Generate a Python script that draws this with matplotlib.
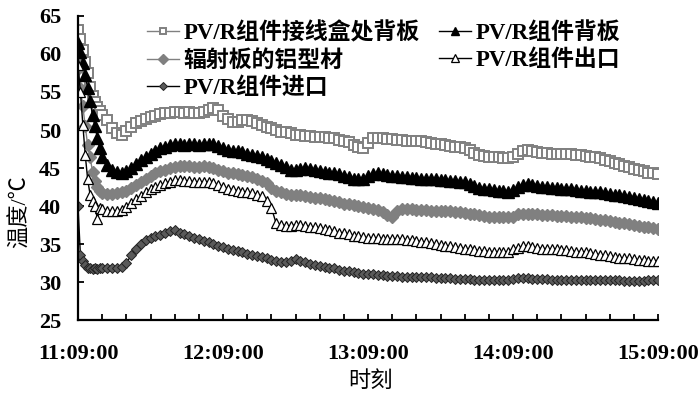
import matplotlib
matplotlib.use("Agg")
import matplotlib.pyplot as plt
from matplotlib.ticker import MultipleLocator

plt.rcParams['font.family'] = ['Liberation Serif', 'Noto Sans CJK SC']
plt.rcParams['axes.unicode_minus'] = False

# minutes after 11:09:00 (1 min steps at the start, then every 2 min)
minutes = list(range(0, 11)) + list(range(12, 241, 2))

tick_pos = [0, 60, 120, 180, 240]
tick_labels = ["11:09:00", "12:09:00", "13:09:00", "14:09:00", "15:09:00"]

names = ["PV/R组件接线盒处背板", "辐射板的铝型材", "PV/R组件进口",
         "PV/R组件背板", "PV/R组件出口"]

junction_box = [63.2, 62.0, 60.5, 59.0, 57.5, 55.6, 54.5, 53.7, 53.0, 52.5, 52.0,
                51.3, 50.3, 49.6, 49.3, 49.9, 50.4, 50.9, 51.2, 51.5, 51.7,
                51.9, 52.1, 52.2, 52.3, 52.4, 52.4, 52.3, 52.4, 52.3, 52.2,
                52.4, 52.6, 52.9, 52.6, 51.8, 51.4, 51.0, 51.0, 51.3, 51.3,
                51.2, 50.9, 50.7, 50.4, 50.2, 50.0, 49.8, 49.7, 49.6, 49.4,
                49.3, 49.2, 49.2, 49.1, 49.1, 49.1, 49.0, 48.9, 48.7, 48.6,
                48.4, 48.0, 47.8, 47.6, 48.3, 48.9, 49.0, 48.9, 48.8, 48.8,
                48.7, 48.7, 48.6, 48.6, 48.5, 48.5, 48.4, 48.3, 48.2, 48.1,
                48.0, 47.9, 47.8, 47.7, 47.6, 47.4, 47.0, 46.7, 46.6, 46.5,
                46.5, 46.4, 46.3, 46.3, 46.5, 46.9, 47.2, 47.4, 47.3, 47.1,
                47.0, 47.0, 46.9, 46.9, 46.9, 46.8, 46.8, 46.7, 46.7, 46.6,
                46.5, 46.4, 46.3, 46.1, 45.9, 45.7, 45.5, 45.3, 45.1, 44.9,
                44.7, 44.6, 44.4, 44.3, 44.2]

back_plate = [61.5, 60.2, 58.8, 57.2, 55.5, 53.8, 52.0, 50.5, 49.0, 47.6, 46.4,
              45.4, 44.8, 44.5, 44.4, 44.6, 45.0, 45.5, 46.0, 46.5, 46.9,
              47.3, 47.6, 47.8, 48.0, 48.1, 48.1, 48.0, 48.1, 48.1, 48.0,
              48.1, 48.2, 48.1, 47.9, 47.6, 47.4, 47.3, 47.2, 47.1, 46.9,
              46.7, 46.6, 46.4, 46.2, 45.9, 45.6, 45.4, 45.1, 44.8, 44.8,
              44.9, 45.0, 44.9, 44.8, 44.6, 44.5, 44.4, 44.3, 44.2, 44.0,
              43.8, 43.6, 43.5, 43.6, 43.9, 44.2, 44.3, 44.2, 44.1, 44.0,
              43.9, 43.8, 43.8, 43.7, 43.7, 43.6, 43.6, 43.5, 43.5, 43.4,
              43.4, 43.3, 43.3, 43.2, 43.2, 42.9, 42.6, 42.4, 42.3, 42.2,
              42.1, 42.0, 42.0, 41.9, 42.1, 42.5, 42.8, 42.9, 42.7, 42.6,
              42.5, 42.5, 42.4, 42.4, 42.3, 42.3, 42.2, 42.1, 42.0, 42.0,
              41.9, 41.9, 41.8, 41.7, 41.6, 41.5, 41.4, 41.3, 41.2, 41.0,
              40.9, 40.8, 40.7, 40.5, 40.4]

aluminium = [58.0, 55.5, 53.1, 50.5, 48.0, 46.5, 44.5, 43.3, 42.5, 42.0, 41.7,
             41.6, 41.6, 41.7, 41.8, 42.0, 42.4, 42.8, 43.2, 43.6, 44.0,
             44.3, 44.6, 44.8, 45.0, 45.1, 45.2, 45.2, 45.2, 45.1, 45.1,
             45.2, 45.1, 45.0, 44.8, 44.6, 44.4, 44.3, 44.2, 44.1, 44.0,
             43.8, 43.6, 43.3, 43.0, 42.4, 42.0, 41.8, 41.6, 41.5, 41.4,
             41.4, 41.3, 41.2, 41.1, 41.0, 40.9, 40.8, 40.6, 40.5, 40.3,
             40.2, 40.1, 40.0, 39.9, 39.8, 39.6, 39.5, 39.2, 38.8, 38.6,
             39.4, 39.6, 39.6, 39.6, 39.5, 39.5, 39.5, 39.4, 39.4, 39.4,
             39.3, 39.3, 39.2, 39.2, 39.1, 39.0, 38.9, 38.8, 38.7, 38.6,
             38.6, 38.5, 38.5, 38.5, 38.6, 38.9, 39.0, 39.0, 38.9, 38.9,
             38.8, 38.8, 38.8, 38.7, 38.7, 38.7, 38.6, 38.6, 38.5, 38.4,
             38.4, 38.3, 38.2, 38.1, 38.0, 37.9, 37.8, 37.7, 37.6, 37.5,
             37.4, 37.3, 37.2, 37.1, 37.0]

outlet = [58.5, 55.0, 50.7, 46.7, 43.5, 41.5, 40.6, 40.0, 38.3, 39.7, 39.6,
          39.4, 39.3, 39.3, 39.5, 39.9, 40.4, 40.9, 41.3, 41.8, 42.2,
          42.5, 42.8, 43.0, 43.2, 43.4, 43.4, 43.3, 43.3, 43.2, 43.1,
          43.2, 43.1, 43.0, 42.8, 42.5, 42.3, 42.1, 42.0, 41.9, 41.8,
          41.7, 41.5, 41.3, 40.6, 39.8, 37.7, 37.5, 37.4, 37.4, 37.5,
          37.5, 37.4, 37.3, 37.2, 37.1, 37.0, 36.8, 36.7, 36.5, 36.4,
          36.3, 36.1, 36.0, 35.9, 35.8, 35.8, 35.8, 35.7, 35.7, 35.7,
          35.6, 35.6, 35.5, 35.5, 35.4, 35.3, 35.2, 35.1, 35.0, 34.9,
          34.8, 34.7, 34.6, 34.5, 34.4, 34.3, 34.2, 34.1, 34.1, 34.0,
          34.0, 34.0, 33.9, 34.0, 34.3, 34.5, 34.7, 34.7, 34.6, 34.5,
          34.4, 34.4, 34.3, 34.3, 34.2, 34.2, 34.1, 34.0, 34.0, 33.9,
          33.8, 33.7, 33.6, 33.5, 33.4, 33.3, 33.2, 33.2, 33.1, 33.0,
          32.9, 32.9, 32.8, 32.8, 32.8]

inlet = [40.0, 33.5, 32.8, 32.2, 31.9, 31.8, 31.7, 31.8, 31.7, 31.8, 31.8,
         31.8, 31.8, 31.8, 32.0, 32.5, 33.5, 34.4, 35.0, 35.5, 35.8,
         36.0, 36.2, 36.4, 36.7, 36.8, 36.5, 36.3, 36.0, 35.8, 35.6,
         35.4, 35.2, 35.0, 34.8, 34.6, 34.4, 34.2, 34.1, 33.9, 33.7,
         33.6, 33.4, 33.3, 33.1, 32.9, 32.7, 32.6, 32.6, 32.8, 33.0,
         32.8, 32.6, 32.4, 32.3, 32.1, 32.0, 31.9, 31.8, 31.6, 31.5,
         31.4, 31.3, 31.2, 31.1, 31.0, 31.0, 30.9, 30.9, 30.8, 30.8,
         30.8, 30.7, 30.7, 30.7, 30.7, 30.6, 30.6, 30.6, 30.5, 30.5,
         30.5, 30.5, 30.4, 30.4, 30.4, 30.4, 30.3, 30.3, 30.3, 30.3,
         30.3, 30.3, 30.3, 30.3, 30.4, 30.5, 30.5, 30.5, 30.4, 30.4,
         30.4, 30.4, 30.3, 30.3, 30.3, 30.3, 30.3, 30.3, 30.3, 30.2,
         30.2, 30.2, 30.2, 30.2, 30.2, 30.2, 30.2, 30.1, 30.1, 30.1,
         30.1, 30.1, 30.2, 30.2, 30.3]

fig = plt.figure(figsize=(7.0, 3.98), dpi=100)
ax = fig.add_axes([78 / 700, 78 / 398, 580 / 700, 304 / 398])

ax.plot(minutes, junction_box, color='#808080', lw=1, marker='s', ms=6.5,
        mfc='white', mec='#808080', mew=1.4, label=names[0])
ax.plot(minutes, aluminium, color='#808080', lw=1, marker='D', ms=6.5,
        mfc='#808080', mec='#808080', label=names[1])
ax.plot(minutes, inlet, color='black', lw=1, marker='D', ms=5,
        mfc='#5a5a5a', mec='#222222', mew=0.7, label=names[2])
ax.plot(minutes, back_plate, color='black', lw=1, marker='^', ms=8,
        mfc='black', mec='black', label=names[3])
ax.plot(minutes, outlet, color='black', lw=1, marker='^', ms=7,
        mfc='white', mec='black', mew=0.9, label=names[4])

ax.set_xlim(0, 240)
ax.set_ylim(25, 65)
ax.set_xticks(tick_pos)
ax.set_xticklabels(tick_labels)
ax.xaxis.set_minor_locator(MultipleLocator(10))
ax.yaxis.set_major_locator(MultipleLocator(5))
ax.tick_params(axis='both', which='both', direction='in', length=4, width=1.3,
               labelsize=16)
ax.tick_params(axis='x', pad=17)
ax.tick_params(axis='y', pad=12)
for lab in ax.get_xticklabels() + ax.get_yticklabels():
    lab.set_fontweight('bold')
for s in ['top', 'right']:
    ax.spines[s].set_visible(False)
for s in ['left', 'bottom']:
    ax.spines[s].set_linewidth(1.6)

fig.text(20 / 700, 1 - 212 / 398, "温度/℃", rotation=90, ha='center',
         va='center', fontsize=16)
fig.text(370 / 700, 1 - 382 / 398, "时刻", ha='center', va='center',
         fontsize=16)

leg = ax.legend(ncol=2, frameon=False, loc='upper left',
                bbox_to_anchor=((147 - 78) / 580, 1 - 6 / 304),
                borderaxespad=0, borderpad=0, handlelength=1.4,
                handletextpad=0.2, columnspacing=0.85, labelspacing=0.24,
                markerscale=0.75, prop={'size': 16.5, 'weight': 'bold'})

fig.savefig("out.png", dpi=100)
